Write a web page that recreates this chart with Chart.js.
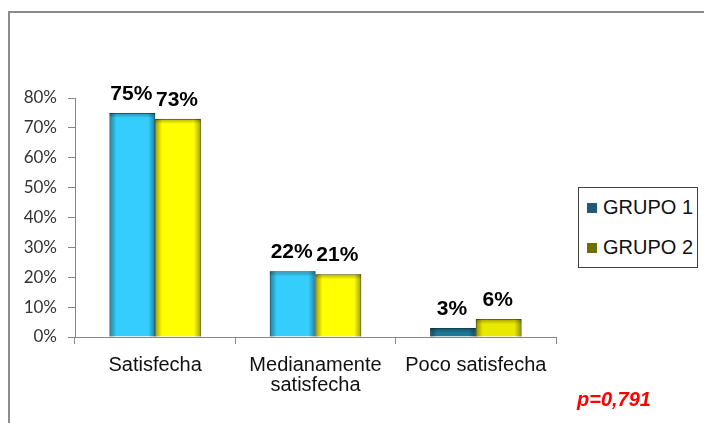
<!DOCTYPE html>
<html>
<head>
<meta charset="utf-8">
<script src="https://cdn.jsdelivr.net/npm/chart.js@4.4.1/dist/chart.umd.min.js"></script>
<style>
    html, body { margin: 0; padding: 0; background: #fff; }
    #wrap { position: relative; width: 704px; height: 423px; overflow: hidden; }
    #frame {
        position: absolute; left: 8px; top: 11px; right: -4px; bottom: -4px;
        border-left: 2px solid #8c8c8c; border-top: 2px solid #8c8c8c;
    }
    #chart { position: absolute; left: 0; top: 0; }
    #legend {
        position: absolute; left: 578px; top: 187px; width: 120px; height: 81px;
        border: 1px solid #404040; box-sizing: border-box; background: #fff;
        font-family: "Liberation Sans", Arial, sans-serif; font-size: 20px; color: #111;
    }
    #legend div { position: absolute; left: 8px; display: flex; align-items: center; }
    #legend span.sw { display: inline-block; width: 10px; height: 10px; margin-right: 6px; }
    #pval {
        position: absolute; left: 577px; top: 388px;
        font-family: "Liberation Sans", Arial, sans-serif; font-size: 20px;
        font-weight: bold; font-style: italic; color: #ff0000;
    }
</style>
</head>
<body>
<div id="wrap">
    <div id="frame"></div>
    <canvas id="chart" width="704" height="423"></canvas>
    <div id="legend"></div>
    <div id="pval">p=0,791</div>
</div>
<script>
// Satisfaction by group
const categories = ['Satisfecha', ['Medianamente', 'satisfecha'], 'Poco satisfecha'];
const seriesNames = ['GRUPO 1', 'GRUPO 2'];
const grupo1 = [75, 22, 3];
const grupo2 = [73, 21, 6];
const yTicks = [0, 10, 20, 30, 40, 50, 60, 70, 80];

// per-bar fills (last category uses the darker tones)
const fill1 = ['#35cdfb', '#35cdfb', '#1f7896'];
const edge1 = ['#1a7fa5', '#1a7fa5', '#135a72'];
const fill2 = ['#ffff00', '#ffff00', '#e8e800'];
const edge2 = ['#9c9c00', '#9c9c00', '#8c8c00'];
const legendColors = ['#1f5b78', '#6e6e00'];

// build the html legend
const legendEl = document.getElementById('legend');
seriesNames.forEach((name, i) => {
    const row = document.createElement('div');
    row.style.top = (i === 0 ? 8 : 48) + 'px';
    row.innerHTML = '<span class="sw" style="background:' + legendColors[i] + '"></span>' + name;
    legendEl.appendChild(row);
});

// shading on the bar edges + value labels above each bar
const barDecor = {
    id: 'barDecor',
    afterDatasetsDraw(chart) {
        const ctx = chart.ctx;
        chart.data.datasets.forEach((ds, di) => {
            chart.getDatasetMeta(di).data.forEach((bar, i) => {
                const p = bar.getProps(['x', 'y', 'base', 'width'], true);
                const l = p.x - p.width / 2, w = p.width, h = p.base - p.y;
                const e = 7 / w;
                ctx.save();
                let g = ctx.createLinearGradient(l, 0, l + w, 0);
                g.addColorStop(0, 'rgba(0,0,0,0.38)');
                g.addColorStop(e, 'rgba(0,0,0,0)');
                g.addColorStop(1 - e, 'rgba(0,0,0,0)');
                g.addColorStop(1, 'rgba(0,0,0,0.38)');
                ctx.fillStyle = g;
                ctx.fillRect(l, p.y, w, h);
                const t = Math.min(5, h);
                g = ctx.createLinearGradient(0, p.y, 0, p.y + t);
                g.addColorStop(0, 'rgba(0,0,0,0.3)');
                g.addColorStop(1, 'rgba(0,0,0,0)');
                ctx.fillStyle = g;
                ctx.fillRect(l, p.y, w, t);

                ctx.fillStyle = '#000';
                ctx.font = 'bold 21px "Liberation Sans", Arial, sans-serif';
                ctx.textAlign = 'center';
                ctx.textBaseline = 'alphabetic';
                ctx.fillText(ds.data[i] + '%', p.x - 1, p.y - 13);
                ctx.restore();
            });
        });
    }
};

new Chart(document.getElementById('chart'), {
    type: 'bar',
    data: {
        labels: categories,
        datasets: [
            { label: seriesNames[0], data: grupo1, backgroundColor: fill1, borderColor: edge1, borderWidth: 1 },
            { label: seriesNames[1], data: grupo2, backgroundColor: fill2, borderColor: edge2, borderWidth: 1 }
        ]
    },
    options: {
        responsive: false,
        animation: false,
        events: [],
        layout: { padding: { top: 98, right: 148, left: 0, bottom: 0 } },
        datasets: { bar: { categoryPercentage: 0.57, barPercentage: 1.0 } },
        plugins: { legend: { display: false }, tooltip: { enabled: false } },
        scales: {
            x: {
                afterFit: s => { s.height = 86; },
                grid: { offset: true, drawOnChartArea: false, tickLength: 7, color: '#868686' },
                border: { color: '#868686' },
                ticks: {
                    padding: 12,
                    color: '#111',
                    font: { family: '"Liberation Sans", Arial, sans-serif', size: 20, lineHeight: 0.97 }
                }
            },
            y: {
                min: 0,
                max: 80,
                afterFit: s => { s.width = 75; },
                afterBuildTicks: s => { s.ticks = yTicks.map(v => ({ value: v })); },
                grid: { drawOnChartArea: false, tickLength: 7, color: '#868686' },
                border: { color: '#868686' },
                ticks: {
                    padding: 11,
                    color: '#333',
                    font: { family: 'Lato, sans-serif', size: 17 },
                    callback: v => v + '%'
                }
            }
        }
    },
    plugins: [barDecor]
});
</script>
</body>
</html>
